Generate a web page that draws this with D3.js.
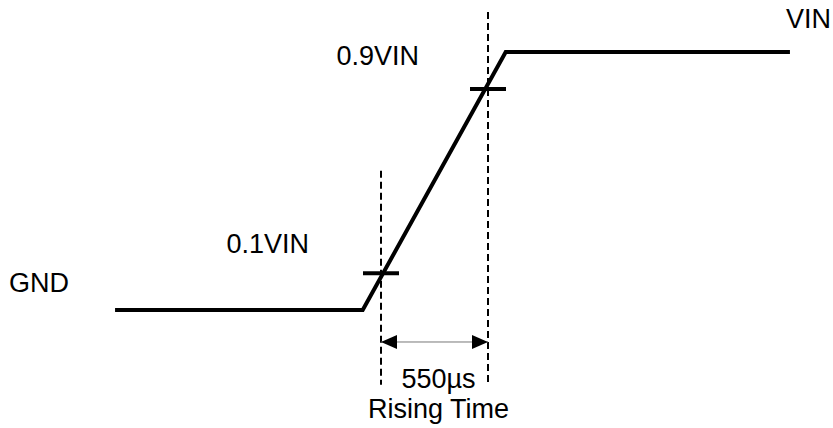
<!DOCTYPE html>
<html>
<head>
<meta charset="utf-8">
<script src="https://cdn.jsdelivr.net/npm/d3@7"></script>
<style>
  body { margin: 0; background: #fff; }
  text { font-family: "Liberation Sans", Arial, sans-serif; font-size: 27px; fill: #000; }
</style>
</head>
<body>
<div class="chart"></div>
<script>
// waveform corners, time in µs (0 = the 10% crossing), level as fraction of VIN
const waveTime = [-1367, -94, 641, 2102];
const waveLevel = [0, 0, 1, 1];

// 10% / 90% crossing marks as drawn
const markTime = [0, 550];
const markLevel = [0.142, 0.857];
const guideTop = [0.54, 1.155];
const guideBottom = -0.29;
const arrowLevel = -0.124;

const levelLabels = ['GND', '0.1VIN', '0.9VIN', 'VIN'];
const spanLabel = '550µs';
const captionLabel = 'Rising Time';

var width = 833, height = 428;

var svg = d3.select('.chart')
  .append('svg')
  .attr('width', width)
  .attr('height', height);

// 107px per 550µs, t=0 at x=381
var x = d3.scaleLinear()
  .domain([0, 550])
  .range([381, 488]);

var y = d3.scaleLinear()
  .domain([0, 1])
  .range([310, 52]);

var defs = svg.append('defs');
['start', 'end'].forEach(function (k) {
  defs.append('marker')
    .attr('id', 'arr-' + k)
    .attr('viewBox', '0 0 16 14')
    .attr('refX', k === 'end' ? 16 : 0)
    .attr('refY', 7)
    .attr('markerWidth', 16)
    .attr('markerHeight', 14)
    .attr('markerUnits', 'userSpaceOnUse')
    .attr('orient', 'auto')
    .append('path')
    .attr('d', k === 'end' ? 'M0,0L16,7L0,14Z' : 'M16,0L0,7L16,14Z')
    .attr('fill', '#000');
});

// dashed guides
svg.selectAll('.guide')
  .data(markTime)
  .enter()
  .append('line')
  .attr('class', 'guide')
  .attr('x1', d => x(d))
  .attr('x2', d => x(d))
  .attr('y1', (d, i) => y(guideTop[i]))
  .attr('y2', y(guideBottom))
  .attr('stroke', '#000')
  .attr('stroke-width', 2)
  .attr('stroke-dasharray', '7,4');

// the waveform
var pts = waveTime.map((t, i) => ({t: t, v: waveLevel[i]}));
svg.append('path')
  .datum(pts)
  .attr('fill', 'none')
  .attr('stroke', '#000')
  .attr('stroke-width', 4)
  .attr('stroke-linejoin', 'miter')
  .attr('d', d3.line()
    .x(d => x(d.t))
    .y(d => y(d.v)));

// crossing ticks
svg.selectAll('.mark')
  .data(markTime)
  .enter()
  .append('line')
  .attr('class', 'mark')
  .attr('x1', d => x(d) - 18)
  .attr('x2', d => x(d) + 18)
  .attr('y1', (d, i) => y(markLevel[i]))
  .attr('y2', (d, i) => y(markLevel[i]))
  .attr('stroke', '#000')
  .attr('stroke-width', 4);

// span arrow
svg.append('line')
  .attr('x1', x(markTime[0]))
  .attr('x2', x(markTime[1]))
  .attr('y1', y(arrowLevel))
  .attr('y2', y(arrowLevel))
  .attr('stroke', '#777')
  .attr('stroke-width', 1)
  .attr('marker-start', 'url(#arr-start)')
  .attr('marker-end', 'url(#arr-end)');

// labels
svg.append('text')
  .attr('x', x(waveTime[0]) - 46)
  .attr('y', y(waveLevel[0]) - 18)
  .style('text-anchor', 'end')
  .text(levelLabels[0]);

svg.append('text')
  .attr('x', x(markTime[0]) - 72)
  .attr('y', y(markLevel[0]) - 20)
  .style('text-anchor', 'end')
  .text(levelLabels[1]);

svg.append('text')
  .attr('x', x(markTime[1]) - 69)
  .attr('y', y(markLevel[1]) - 24)
  .style('text-anchor', 'end')
  .text(levelLabels[2]);

svg.append('text')
  .attr('x', x(waveTime[3]) - 4)
  .attr('y', y(waveLevel[3]) - 24)
  .text(levelLabels[3]);

svg.append('text')
  .attr('x', (x(markTime[0]) + x(markTime[1])) / 2 + 4)
  .attr('y', 388)
  .style('text-anchor', 'middle')
  .text(spanLabel);

svg.append('text')
  .attr('x', (x(markTime[0]) + x(markTime[1])) / 2 + 4)
  .attr('y', 418)
  .style('text-anchor', 'middle')
  .text(captionLabel);
</script>
</body>
</html>
